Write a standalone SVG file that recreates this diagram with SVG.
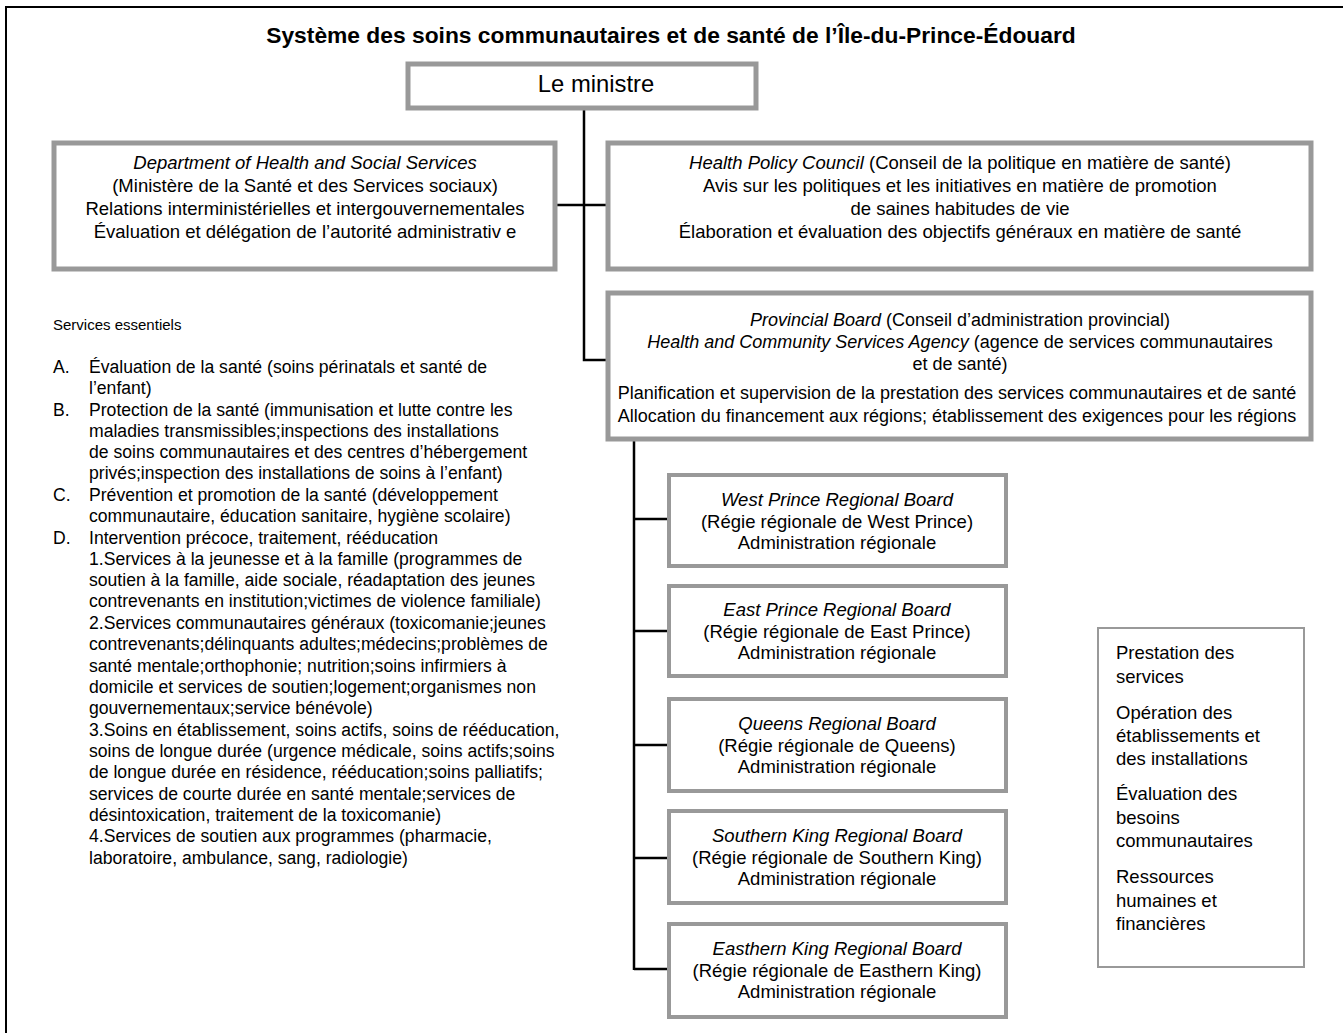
<svg xmlns="http://www.w3.org/2000/svg" width="1343" height="1033" viewBox="0 0 1343 1033">
<style>
text{font-family:"Liberation Sans",Arial,sans-serif;fill:#000}
.t{font-size:18.5px;text-anchor:middle}
.p{font-size:18px;text-anchor:middle}
.l{font-size:17.6px}
.r{font-size:18.5px}
.i{font-style:italic}
.box{fill:#fff;stroke:#999;stroke-width:5}
.rbox{fill:#fff;stroke:#999;stroke-width:4}
.conn{stroke:#000;stroke-width:2.5;fill:none}
</style>
<rect x="0" y="0" width="1343" height="1033" fill="#fff"/>
<rect x="6" y="7" width="1345" height="1035" fill="none" stroke="#000" stroke-width="2"/>
<text x="671" y="43" style="font-size:22.8px;font-weight:bold;text-anchor:middle">Système des soins communautaires et de santé de l’Île-du-Prince-Édouard</text>
<g id="connectors">
<path class="conn" d="M584 108V360H607"/>
<path class="conn" d="M556 205H609"/>
<path class="conn" d="M634 440V970"/>
<path class="conn" d="M634 519H668M634 631H668M634 745H668M634 858H668M634 969H668"/>
</g>
<g id="minister">
<rect class="box" x="408" y="64" width="348" height="44"/>
<text x="596" y="92" style="font-size:23.8px;text-anchor:middle">Le ministre</text>
</g>
<g id="department">
<rect class="box" x="54" y="143" width="501" height="126"/>
<text class="t i" x="305" y="169">Department of Health and Social Services</text>
<text class="t" x="305" y="192">(Ministère de la Santé et des Services sociaux)</text>
<text class="t" x="305" y="215">Relations interministérielles et intergouvernementales</text>
<text class="t" x="305" y="238">Évaluation et délégation de l’autorité administrativ e</text>
</g>
<g id="health-policy-council">
<rect class="box" x="608" y="143" width="703" height="126"/>
<text class="t" x="960" y="169"><tspan font-style="italic">Health Policy Council</tspan> (Conseil de la politique en matière de santé)</text>
<text class="t" x="960" y="192">Avis sur les politiques et les initiatives en matière de promotion</text>
<text class="t" x="960" y="215">de saines habitudes de vie</text>
<text class="t" x="960" y="238">Élaboration et évaluation des objectifs généraux en matière de santé</text>
</g>
<g id="provincial-board">
<rect class="box" x="608" y="293" width="703" height="146"/>
<text class="p" x="960" y="326"><tspan font-style="italic">Provincial Board</tspan> (Conseil d’administration provincial)</text>
<text class="p" x="960" y="348"><tspan font-style="italic">Health and Community Services Agency</tspan>  (agence de services communautaires</text>
<text class="p" x="960" y="370">et de santé)</text>
<text class="p" x="957" y="399">Planification et supervision de la prestation des services communautaires et de santé</text>
<text class="p" x="957" y="422">Allocation du financement aux régions; établissement des exigences pour les régions</text>
</g>
<g id="essential-services">
<text x="53" y="330" style="font-size:15px">Services essentiels</text>
<g class="l">
<text x="53" y="373">A.</text><text x="89" y="373">Évaluation de la santé (soins périnatals et santé de</text>
<text x="89" y="394">l’enfant)</text>
<text x="53" y="416">B.</text><text x="89" y="416">Protection de la santé (immunisation et lutte contre les</text>
<text x="89" y="437">maladies transmissibles;inspections des installations</text>
<text x="89" y="458">de soins communautaires et des centres d’hébergement</text>
<text x="89" y="479">privés;inspection des installations de soins à l’enfant)</text>
<text x="53" y="501">C.</text><text x="89" y="501">Prévention et promotion de la santé (développement</text>
<text x="89" y="522">communautaire, éducation sanitaire, hygiène scolaire)</text>
<text x="53" y="544">D.</text><text x="89" y="544">Intervention précoce, traitement, rééducation</text>
<text x="89" y="565">1.Services à la jeunesse et à la famille (programmes de</text>
<text x="89" y="586">soutien à la famille, aide sociale, réadaptation des jeunes</text>
<text x="89" y="607">contrevenants en institution;victimes de violence familiale)</text>
<text x="89" y="629">2.Services communautaires généraux (toxicomanie;jeunes</text>
<text x="89" y="650">contrevenants;délinquants adultes;médecins;problèmes de</text>
<text x="89" y="672">santé mentale;orthophonie; nutrition;soins infirmiers à</text>
<text x="89" y="693">domicile et services de soutien;logement;organismes non</text>
<text x="89" y="714">gouvernementaux;service bénévole)</text>
<text x="89" y="736">3.Soins en établissement, soins actifs, soins de rééducation,</text>
<text x="89" y="757">soins de longue durée (urgence médicale, soins actifs;soins</text>
<text x="89" y="778">de longue durée en résidence, rééducation;soins palliatifs;</text>
<text x="89" y="800">services de courte durée en santé mentale;services de</text>
<text x="89" y="821">désintoxication, traitement de la toxicomanie)</text>
<text x="89" y="842">4.Services de soutien aux programmes (pharmacie,</text>
<text x="89" y="864">laboratoire, ambulance, sang, radiologie)</text>
</g>
</g>
<g id="west-prince">
<rect class="rbox" x="669" y="475" width="337" height="91"/>
<text class="t i" x="837" y="506">West Prince Regional Board</text>
<text class="t" x="837" y="528">(Régie régionale de West Prince)</text>
<text class="t" x="837" y="549">Administration régionale</text>
</g>
<g id="east-prince">
<rect class="rbox" x="669" y="586" width="337" height="90"/>
<text class="t i" x="837" y="616">East Prince Regional Board</text>
<text class="t" x="837" y="638">(Régie régionale de East Prince)</text>
<text class="t" x="837" y="659">Administration régionale</text>
</g>
<g id="queens">
<rect class="rbox" x="669" y="699" width="337" height="92"/>
<text class="t i" x="837" y="730">Queens Regional Board</text>
<text class="t" x="837" y="752">(Régie régionale de Queens)</text>
<text class="t" x="837" y="773">Administration régionale</text>
</g>
<g id="southern-king">
<rect class="rbox" x="669" y="811" width="337" height="92"/>
<text class="t i" x="837" y="842">Southern King Regional Board</text>
<text class="t" x="837" y="864">(Régie régionale de Southern King)</text>
<text class="t" x="837" y="885">Administration régionale</text>
</g>
<g id="easthern-king">
<rect class="rbox" x="669" y="924" width="337" height="93"/>
<text class="t i" x="837" y="955">Easthern King Regional Board</text>
<text class="t" x="837" y="977">(Régie régionale de Easthern King)</text>
<text class="t" x="837" y="998">Administration régionale</text>
</g>
<g id="regional-functions">
<rect x="1098" y="628" width="206" height="339" fill="#fff" stroke="#999" stroke-width="2"/>
<g class="r">
<text x="1116" y="659">Prestation des</text>
<text x="1116" y="683">services</text>
<text x="1116" y="719">Opération des</text>
<text x="1116" y="742">établissements et</text>
<text x="1116" y="765">des installations</text>
<text x="1116" y="800">Évaluation des</text>
<text x="1116" y="824">besoins</text>
<text x="1116" y="847">communautaires</text>
<text x="1116" y="883">Ressources</text>
<text x="1116" y="907">humaines et</text>
<text x="1116" y="930">financières</text>
</g>
</g>
</svg>
